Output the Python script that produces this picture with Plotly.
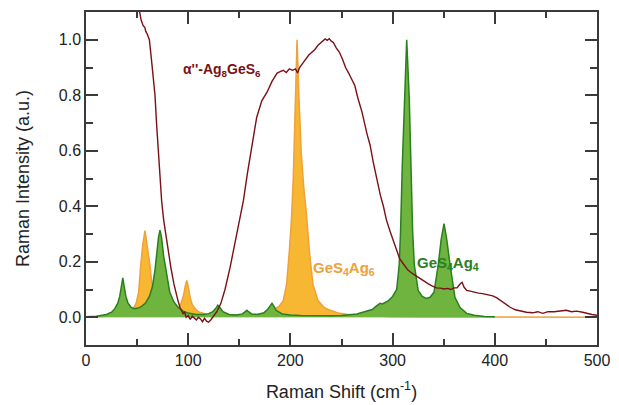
import plotly.graph_objects as go

# GeS4Ag6 (orange) spectrum
ag6_x = [0, 20, 35, 42, 46, 49, 51.5, 53.5, 55.5, 57.7, 59.7, 62.6, 65, 68, 72, 78, 85, 90, 93, 95.5, 97,
         98.5, 100, 102, 104, 107, 110, 114, 118, 125, 135, 150, 165, 175, 183, 189, 193, 196.3, 199, 201,
         202.8, 204.7, 206.5, 208.3, 210.5, 213, 215.5, 218.5, 222, 227, 233, 239, 248, 260, 280, 300, 330,
         400, 500]
ag6_y = [0.0, 0.002, 0.006, 0.015, 0.03, 0.05, 0.09, 0.186, 0.26, 0.312, 0.26, 0.186, 0.1, 0.06, 0.035, 0.022,
         0.02, 0.03, 0.05, 0.08, 0.11, 0.133, 0.11, 0.07, 0.045, 0.03, 0.02, 0.016, 0.01, 0.006, 0.005, 0.006,
         0.01, 0.012, 0.025, 0.04, 0.06, 0.12, 0.24, 0.35, 0.5, 0.8, 1.0, 0.8, 0.6, 0.47, 0.38, 0.24, 0.12,
         0.06, 0.035, 0.025, 0.014, 0.008, 0.004, 0.002, 0.001, 0.0, 0.0]

# GeS4Ag4 (green) spectrum
ag4_x = [0, 10, 20, 25, 28, 31, 33, 34.5, 36, 37.5, 39, 41, 44, 47, 50, 54, 58, 62, 65, 67.5, 69.5, 71, 72.4,
         74, 76, 78.5, 82, 86, 90, 95, 100, 108, 115, 120, 124, 127, 129, 131, 134, 140, 147, 153, 156, 157.5,
         159, 162, 168, 174, 178, 180.5, 182, 183.5, 186, 192, 200, 210, 220, 230, 240, 250, 258, 265, 270,
         275, 280, 284, 287.7, 290, 293, 296, 300, 304, 306.5, 307.8, 309.5, 311.8, 313.8, 316.3, 317.7,
         319.6, 321.2, 325, 329, 333, 336.6, 340.5, 344.7, 347.5, 350.3, 353, 356.2, 361, 366, 372.5, 380,
         390, 400]
ag4_y = [0.002, 0.004, 0.01, 0.018, 0.03, 0.05, 0.075, 0.105, 0.142, 0.108, 0.075, 0.052, 0.036, 0.031, 0.032,
         0.038, 0.05, 0.075, 0.11, 0.17, 0.24, 0.29, 0.314, 0.285, 0.22, 0.16, 0.09, 0.055, 0.036, 0.022,
         0.015, 0.01, 0.01, 0.013, 0.02, 0.032, 0.043, 0.035, 0.02, 0.01, 0.008, 0.012, 0.02, 0.025, 0.02,
         0.012, 0.01, 0.016, 0.03, 0.045, 0.05, 0.042, 0.025, 0.012, 0.008, 0.006, 0.005, 0.005, 0.005,
         0.006, 0.008, 0.012, 0.017, 0.022, 0.028, 0.04, 0.05, 0.048, 0.053, 0.06, 0.075, 0.1, 0.19, 0.31,
         0.55, 0.79, 1.0, 0.79, 0.55, 0.31, 0.19, 0.097, 0.075, 0.068, 0.072, 0.09, 0.19, 0.28, 0.337, 0.28,
         0.19, 0.072, 0.035, 0.014, 0.007, 0.003, 0.002]

# alpha''-Ag8GeS6 (dark red) spectrum
ag8_x = [45, 52, 54, 56, 57.5, 58.5, 60, 62, 64, 66, 67.5, 69, 70.6, 72, 74, 76, 78, 80.5, 83, 86, 88, 90, 92,
         94, 95, 96.5, 98, 100, 102, 104, 106, 108, 110, 112, 114, 116, 118, 120, 122, 124, 128, 132, 136,
         141, 146, 150, 154, 158, 163, 167, 172, 177, 182, 187, 190, 193, 196, 199, 202, 205, 207, 209, 212,
         215, 218, 221, 224, 227, 230, 232, 234, 236, 238, 240, 242, 245, 248, 251, 254, 257, 260, 263, 266,
         270, 275, 278, 281, 285, 288, 291, 294, 297.5, 301, 304, 307, 311, 315, 320, 324, 327, 331, 335,
         339, 343, 347, 350, 354, 357, 360, 363, 366, 368, 370, 372.5, 376, 380, 384, 388, 392, 395, 398,
         402, 406, 410, 415, 420, 425, 431, 437, 442, 447, 452, 458, 464, 470, 475, 480, 486, 490, 495, 500]
ag8_y = [1.2, 1.11, 1.07, 1.05, 1.045, 1.03, 1.02, 1.0, 0.93, 0.86, 0.8, 0.7, 0.6, 0.51, 0.42, 0.35, 0.3, 0.24,
         0.18, 0.12, 0.085, 0.06, 0.035, 0.02, 0.013, 0.018, 0.0, 0.006, -0.008, 0.004, -0.002, -0.01, 0.0,
         -0.006, -0.016, -0.004, -0.014, -0.018, -0.01, 0.0, 0.02, 0.05, 0.1, 0.18, 0.27, 0.34, 0.42, 0.52,
         0.64, 0.72, 0.78, 0.81, 0.85, 0.88, 0.885, 0.89, 0.882, 0.895, 0.89, 0.895, 0.88, 0.9, 0.915, 0.93,
         0.945, 0.955, 0.965, 0.98, 0.99, 0.995, 1.003, 0.998, 1.004, 0.995, 0.99, 0.97, 0.955, 0.93, 0.9,
         0.88, 0.86, 0.835, 0.79, 0.74, 0.66, 0.62, 0.56, 0.49, 0.44, 0.4, 0.35, 0.31, 0.27, 0.24, 0.21,
         0.19, 0.17, 0.156, 0.146, 0.14, 0.13, 0.12, 0.112, 0.106, 0.105, 0.102, 0.104, 0.1, 0.106, 0.106,
         0.12, 0.126, 0.108, 0.097, 0.094, 0.09, 0.087, 0.085, 0.082, 0.08, 0.077, 0.07, 0.06, 0.048, 0.036,
         0.027, 0.022, 0.018, 0.016, 0.02, 0.014, 0.02, 0.02, 0.022, 0.025, 0.02, 0.022, 0.018, 0.014, 0.01,
         0.007]

x_ticks = [0, 100, 200, 300, 400, 500]
y_ticks = [0.0, 0.2, 0.4, 0.6, 0.8, 1.0]

ORANGE_FILL = "#F8B733"
ORANGE_LINE = "#EFA13A"
GREEN_FILL = "#6FB43F"
GREEN_LINE = "#2A7F1E"
RED = "#7A1015"
AXIS = "#3a3a3a"

fig = go.Figure()
fig.add_trace(go.Scatter(x=ag6_x, y=ag6_y, mode="lines", fill="tozeroy",
                         fillcolor=ORANGE_FILL, line=dict(color=ORANGE_LINE, width=1.5),
                         showlegend=False, hoverinfo="skip"))
fig.add_trace(go.Scatter(x=ag4_x, y=ag4_y, mode="lines", fill="tozeroy",
                         fillcolor=GREEN_FILL, line=dict(color=GREEN_LINE, width=1.5),
                         showlegend=False, hoverinfo="skip"))
fig.add_trace(go.Scatter(x=ag8_x, y=ag8_y, mode="lines",
                         line=dict(color=RED, width=1.4),
                         showlegend=False, hoverinfo="skip"))

font_family = "Liberation Sans, Arial, sans-serif"

fig.add_annotation(x=133, y=0.89, text="<b>α''-Ag<sub>8</sub>GeS<sub>6</sub></b>", showarrow=False,
                   font=dict(color=RED, size=14, family=font_family))
fig.add_annotation(x=252, y=0.175, text="<b>GeS<sub>4</sub>Ag<sub>6</sub></b>", showarrow=False,
                   font=dict(color=ORANGE_LINE, size=15, family=font_family))
fig.add_annotation(x=354, y=0.195, text="<b>GeS<sub>4</sub>Ag<sub>4</sub></b>", showarrow=False,
                   font=dict(color=GREEN_LINE, size=15, family=font_family))

# page body has an 8px margin, so the figure is sized/margined to compensate
fig.update_layout(
    width=611, height=397,
    margin=dict(l=78, r=22, t=2, b=60),
    plot_bgcolor="white", paper_bgcolor="white",
    font=dict(family=font_family, color="#222"),
)
fig.update_xaxes(
    range=[0, 500], tickvals=x_ticks, ticktext=[str(v) for v in x_ticks],
    ticks="inside", ticklen=12, tickwidth=1.5, tickcolor=AXIS,
    minor=dict(dtick=50, ticks="inside", ticklen=6, tickwidth=1.5, tickcolor=AXIS),
    showline=True, linecolor=AXIS, linewidth=1.5, mirror="ticks",
    showgrid=False, zeroline=False,
    tickfont=dict(size=16),
    title=dict(text="Raman Shift (cm<sup>-1</sup>)", font=dict(size=18), standoff=17),
)
fig.update_yaxes(
    range=[-0.1, 1.1], tickvals=y_ticks, ticktext=["%.1f" % v for v in y_ticks],
    ticks="inside", ticklen=12, tickwidth=1.5, tickcolor=AXIS,
    minor=dict(dtick=0.1, tick0=0, ticks="inside", ticklen=7, tickwidth=1.5, tickcolor=AXIS),
    showline=True, linecolor=AXIS, linewidth=1.5, mirror="ticks",
    showgrid=False, zeroline=False,
    tickfont=dict(size=16),
    title=dict(text="Raman Intensity (a.u.)", font=dict(size=18), standoff=24),
)

fig.write_html("out.html")
